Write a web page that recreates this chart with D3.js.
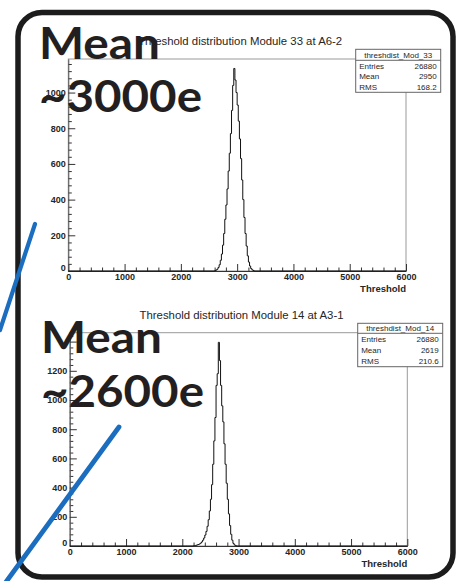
<!DOCTYPE html>
<html><head><meta charset="utf-8">
<script src="https://cdn.jsdelivr.net/npm/d3@7"></script>
<style>html,body{margin:0;padding:0;background:#fff;}svg{display:block;}</style>
</head><body>
<svg id="c" width="461" height="581"></svg>
<script>
// ---------- DATA ----------
const binWidth = 20;
const xTicks = [0, 1000, 2000, 3000, 4000, 5000, 6000];

// Module 33 (top)
const topTitle = "Threshold distribution Module 33 at A6-2";
const topStatsName = "threshdist_Mod_33";
const topStats = [["Entries", "26880"], ["Mean", "2950"], ["RMS", "168.2"]];
const topBinLow = [2600,2620,2640,2660,2680,2700,2720,2740,2760,2780,2800,2820,2840,2860,2880,2900,2920,2940,2960,2980,3000,3020,3040,3060,3080,3100,3120,3140,3160,3180,3200,3220,3240,3260,3280];
const topCounts = [2,5,10,20,35,60,95,145,210,290,370,460,560,660,770,900,1040,1135,1070,1000,930,840,740,630,510,400,300,210,140,85,50,28,14,7,3];
const topYTicks = [0, 200, 400, 600, 800, 1000];
const topYLabels = [0, 200, 400, 600, 800, 1000];
const topYMax = 1188;
const topNote = ["Mean", "~3000e"];

// Module 14 (bottom)
const botTitle = "Threshold distribution Module 14 at A3-1";
const botStatsName = "threshdist_Mod_14";
const botStats = [["Entries", "26880"], ["Mean", "2619"], ["RMS", "210.6"]];
const botBinLow = [2200,2220,2240,2260,2280,2300,2320,2340,2360,2380,2400,2420,2440,2460,2480,2500,2520,2540,2560,2580,2600,2620,2640,2660,2680,2700,2720,2740,2760,2780,2800,2820,2840,2860,2880,2900,2920,2940];
const botCounts = [2,3,5,8,10,14,20,28,40,55,75,100,135,180,240,320,420,560,720,880,1100,1180,1395,1270,1100,960,850,700,560,430,320,220,140,80,40,18,8,3];
const botYTicks = [0, 200, 400, 600, 800, 1000, 1200, 1400];
const botYLabels = [0, 200, 400, 600, 800, 1000, 1200];
const botYMax = 1461;
const botNote = ["Mean", "~2600e"];

// ---------- LAYOUT ----------
const svg = d3.select("#c");
const TXT = "#262626";
const FONT = "Liberation Sans, Arial, sans-serif";

const panels = [
  {title: topTitle, statsName: topStatsName, stats: topStats, bins: topBinLow, counts: topCounts,
   yTicks: topYTicks, yLabels: topYLabels, yMax: topYMax, note: topNote,
   L: 68.3, R: 406, T: 59, B: 271, titleY: 45,
   box: {x0: 355.7, x1: 440.7, y0: 49.3, y1: 92.3, sep: 60.3},
   noteX: 39, noteY1: 59, noteY2: 112},
  {title: botTitle, statsName: botStatsName, stats: botStats, bins: botBinLow, counts: botCounts,
   yTicks: botYTicks, yLabels: botYLabels, yMax: botYMax, note: botNote,
   L: 69.8, R: 407.3, T: 332.7, B: 546, titleY: 318.5,
   box: {x0: 357.7, x1: 442.7, y0: 323.3, y1: 366.7, sep: 333.3},
   noteX: 41, noteY1: 353, noteY2: 407}
];

panels.forEach(p => {
  const g = svg.append("g");
  const x = d3.scaleLinear().domain([0, 6000]).range([p.L, p.R]);
  const y = d3.scaleLinear().domain([0, p.yMax]).range([p.B, p.T]);

  // frame
  g.append("rect").attr("x", p.L).attr("y", p.T).attr("width", p.R - p.L).attr("height", p.B - p.T)
    .attr("fill", "none").attr("stroke", "#9a9a9a").attr("stroke-width", 1);

  // minor ticks
  const xMinor = d3.range(0, 6001, 200).filter(v => v % 1000 !== 0);
  g.append("g").attr("transform", `translate(0,${p.B})`)
    .call(d3.axisBottom(x).tickValues(xMinor).tickSize(-3.5).tickFormat(""))
    .call(a => a.select(".domain").remove())
    .selectAll("line").attr("stroke", "#333");
  const yMinor = d3.range(0, p.yMax, 40).filter(v => v % 200 !== 0);
  g.append("g").attr("transform", `translate(${p.L},0)`)
    .call(d3.axisLeft(y).tickValues(yMinor).tickSize(-3.5).tickFormat(""))
    .call(a => a.select(".domain").remove())
    .selectAll("line").attr("stroke", "#333");

  // major axes
  const ax = g.append("g").attr("transform", `translate(0,${p.B})`)
    .call(d3.axisBottom(x).tickValues(xTicks).tickSizeInner(-7).tickSizeOuter(0).tickPadding(2.5).tickFormat(d3.format("d")));
  ax.select(".domain").attr("stroke", "#333");
  ax.selectAll("line").attr("stroke", "#333");
  ax.selectAll("text").attr("font-family", FONT).attr("font-size", 9)
    .attr("fill", TXT).attr("font-weight", "bold");

  const ay = g.append("g").attr("transform", `translate(${p.L},0)`)
    .call(d3.axisLeft(y).tickValues(p.yTicks).tickSizeInner(-7).tickSizeOuter(0).tickPadding(2.5)
      .tickFormat(d => p.yLabels.includes(d) ? d3.format("d")(d) : ""));
  ay.select(".domain").attr("stroke", "#555");
  ay.selectAll("line").attr("stroke", "#333");
  ay.selectAll("text").attr("font-family", FONT).attr("font-size", 9)
    .attr("fill", TXT).attr("font-weight", "bold")
    .attr("dy", d => d === 0 ? "-0.1em" : "0.32em");

  // axis title
  g.append("text").attr("x", p.R).attr("y", p.B + 21).attr("text-anchor", "end")
    .attr("font-family", FONT).attr("font-size", 9.5).attr("font-weight", "bold")
    .attr("fill", TXT).text("Threshold");

  // histogram as step outline
  const pts = [[0, 0]];
  const first = p.bins[0], last = p.bins[p.bins.length - 1] + binWidth;
  pts.push([first, 0]);
  p.bins.forEach((b, i) => { pts.push([b, p.counts[i]]); pts.push([b + binWidth, p.counts[i]]); });
  pts.push([last, 0]);
  pts.push([6000, 0]);
  g.append("path").attr("d", d3.line().x(d => x(d[0])).y(d => y(d[1]))(pts))
    .attr("fill", "none").attr("stroke", "#111").attr("stroke-width", 1);

  // title
  g.append("text").attr("x", (p.L + p.R) / 2 + 3).attr("y", p.titleY).attr("text-anchor", "middle")
    .attr("font-family", FONT).attr("font-size", 10)
    .attr("textLength", 204).attr("lengthAdjust", "spacingAndGlyphs")
    .attr("fill", TXT).text(p.title);

  // stats box
  const bx = p.box;
  g.append("rect").attr("x", bx.x0).attr("y", bx.y0).attr("width", bx.x1 - bx.x0).attr("height", bx.y1 - bx.y0)
    .attr("fill", "#fff").attr("stroke", "#666").attr("stroke-width", 1);
  g.append("line").attr("x1", bx.x0).attr("x2", bx.x1).attr("y1", bx.sep).attr("y2", bx.sep)
    .attr("stroke", "#666").attr("stroke-width", 1);
  g.append("text").attr("x", (bx.x0 + bx.x1) / 2).attr("y", bx.sep - 2.6).attr("text-anchor", "middle")
    .attr("font-family", FONT).attr("font-size", 8).attr("fill", TXT)
    .text(p.statsName);
  const rowH = (bx.y1 - bx.sep) / p.stats.length;
  p.stats.forEach((s, i) => {
    const yy = bx.sep + rowH * (i + 0.5) + 2.9;
    g.append("text").attr("x", bx.x0 + 3.5).attr("y", yy)
      .attr("font-family", FONT).attr("font-size", 8).attr("fill", TXT).text(s[0]);
    g.append("text").attr("x", bx.x1 - 4).attr("y", yy).attr("text-anchor", "end")
      .attr("font-family", FONT).attr("font-size", 8).attr("fill", TXT).text(s[1]);
  });

  // big annotation
  g.append("text").attr("x", p.noteX).attr("y", p.noteY1)
    .attr("font-family", "Lato, 'DejaVu Sans', sans-serif").attr("font-weight", "bold").attr("font-size", 44)
    .attr("textLength", 121).attr("lengthAdjust", "spacingAndGlyphs").attr("fill", "#231f20").text(p.note[0]);
  g.append("text").attr("x", p.noteX).attr("y", p.noteY2)
    .attr("font-family", "Lato, 'DejaVu Sans', sans-serif").attr("font-weight", "bold").attr("font-size", 44)
    .attr("textLength", 163).attr("lengthAdjust", "spacingAndGlyphs").attr("fill", "#231f20").text(p.note[1]);
});

// rounded border
svg.append("rect").attr("x", 18).attr("y", 12.5).attr("width", 435).attr("height", 564.5).attr("rx", 24)
  .attr("fill", "none").attr("stroke", "#1c1c1c").attr("stroke-width", 5.5);

// blue pointer lines
svg.append("line").attr("x1", 35).attr("y1", 224).attr("x2", 0).attr("y2", 330)
  .attr("stroke", "#1b6ebf").attr("stroke-width", 4.2).attr("stroke-linecap", "round");
svg.append("line").attr("x1", 119).attr("y1", 427).attr("x2", 6).attr("y2", 582)
  .attr("stroke", "#1b6ebf").attr("stroke-width", 4.8).attr("stroke-linecap", "round");
</script>
</body></html>
